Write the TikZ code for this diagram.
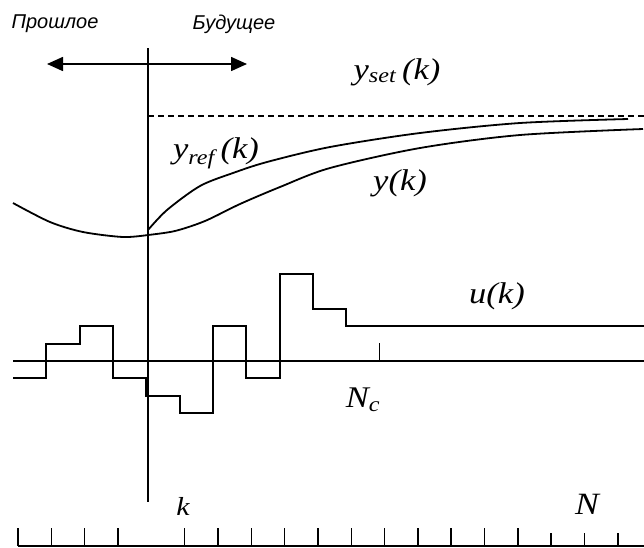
\documentclass[tikz,border=0pt]{standalone}
\usepackage{fontspec}
\setmainfont{Liberation Serif}
\setsansfont{Liberation Sans}
\usepackage{graphicx}
\usetikzlibrary{arrows.meta}

\newcommand{\wide}[1]{\scalebox{1.15}[1]{#1}}

\begin{document}
\begin{tikzpicture}[x=1pt, y=-1pt,
  ax/.style={line width=1.6pt},
  sig/.style={line width=2pt, line join=miter},
  crv/.style={line width=1.8pt},
  mlbl/.style={font=\fontsize{30}{30}\selectfont\itshape, inner sep=0pt},
  tlbl/.style={font=\sffamily\itshape\fontsize{20}{20}\selectfont, inner sep=0pt},
  tip/.style={{Triangle[length=16pt,width=14pt]}-{Triangle[length=16pt,width=14pt]}}]
\useasboundingbox (0,0) rectangle (644,547);

% time now
\coordinate (now-top) at (148,48);
\coordinate (now-bot) at (148,502);
\draw[ax] (now-top) -- (now-bot);

% past / future
\node[tlbl] (past-lbl) at (55,24) {Прошлое};
\node[tlbl] (fut-lbl) at (234,24) {Будущее};
\coordinate (past) at (47,64);
\coordinate (fut) at (247,64);
\draw[ax, tip] (past) -- (fut);

% set point and outputs
\coordinate (set-l) at (148,116);
\coordinate (set-r) at (644,116);
\draw[ax, dash pattern=on 6pt off 4pt] (set-l) -- (set-r);
\node[mlbl] (yset) at (397,72) {\wide{y\textsubscript{set}\,(k)}};

\draw[crv] plot[smooth] coordinates {(13,203) (50,222) (83,232) (123,237) (148,235)};
\draw[crv] plot[smooth] coordinates {(148,230) (167,210) (200,186) (233,173) (267,162) (330,147) (420,133) (520,123) (628,119)};
\draw[crv] plot[smooth] coordinates {(148,235) (175,231) (205,221) (240,204) (280,187) (330,168) (420,148) (520,135) (643,129)};
\node[mlbl] (yref) at (216,153) {\wide{y\textsubscript{ref}\,(k)}};
\node[mlbl] (yk) at (400,183) {\wide{y(k)}};

% control signal
\coordinate (u-l) at (13,361);
\coordinate (u-r) at (644,361);
\draw[ax] (u-l) -- (u-r);
\draw[sig] (13,378) -| (46.3,344) -| (79.6,326) -| (113,378) -| (146.3,396)
  -| (179.6,413) -| (213,326) -| (246.3,378) -| (279.6,274) -| (313,309)
  -| (346.3,326) -- (644,326);
\draw[ax] (379.6,361) -- (379.6,343);
\node[mlbl] (uk) at (497,296) {\wide{u(k)}};
\node[mlbl] (nc) at (363,400) {\wide{N\textsubscript{c}}};

% sampling axis
\draw[ax] (18,546) -- (644,546);
\foreach \i in {0,...,18} {
  \ifnum\i=4 \else
    \ifnum\i>15
      \draw[ax] ({18+33.33*\i},546) -- ({18+33.33*\i},533);
    \else
      \draw[ax] ({18+33.33*\i},546) -- ({18+33.33*\i},528);
    \fi
  \fi
}
\node[mlbl, font=\fontsize{26}{26}\selectfont\itshape] (k) at (183,506) {\wide{k}};
\node[mlbl, font=\fontsize{31}{31}\selectfont\itshape] (n) at (587,504) {\wide{N}};
\end{tikzpicture}
\end{document}
